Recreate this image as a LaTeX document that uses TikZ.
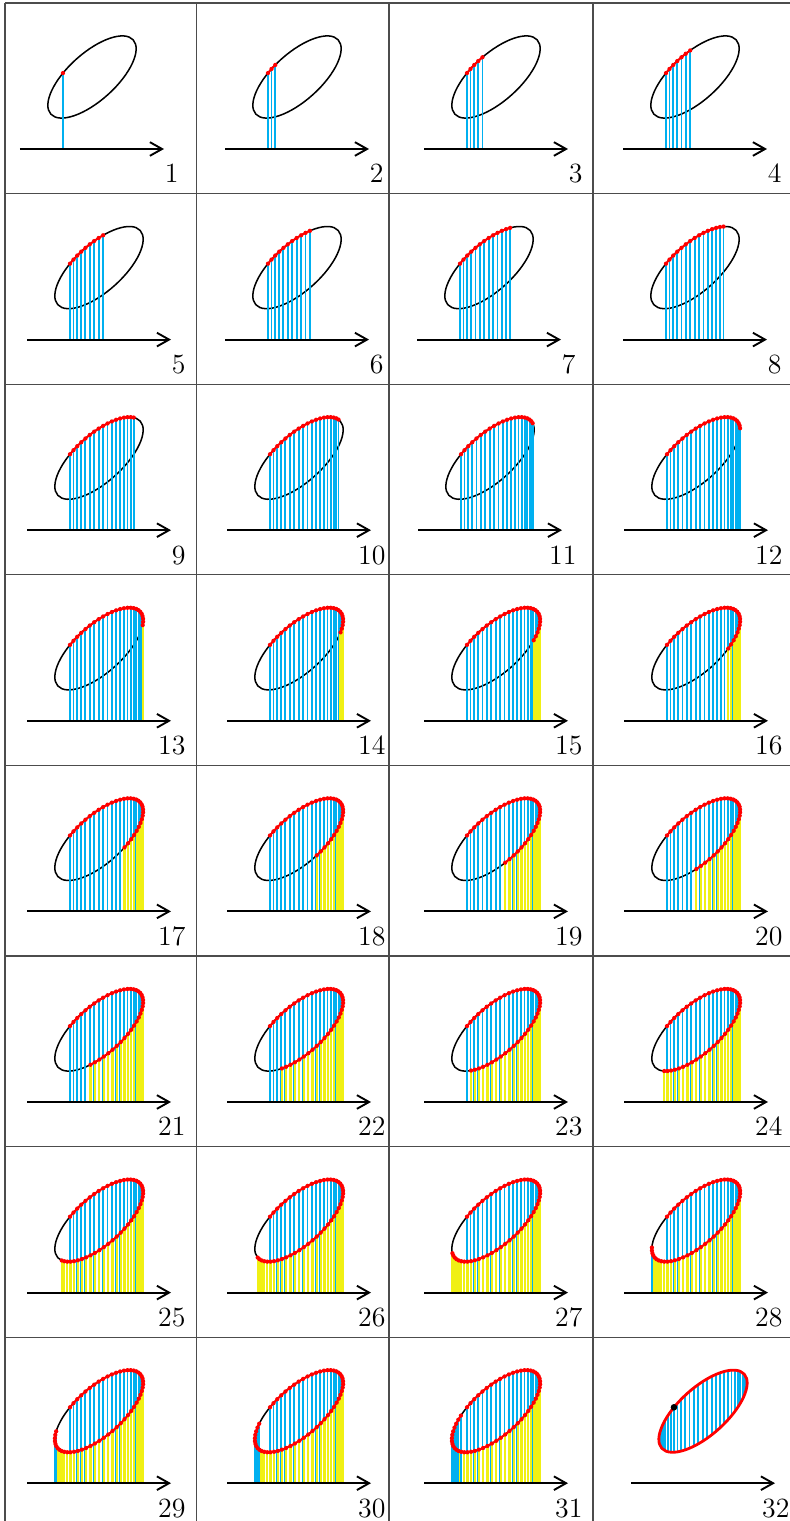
\documentclass[tikz,border=0pt]{standalone}
\usetikzlibrary{math,arrows.meta}
\definecolor{stripblue}{RGB}{0,176,240}
\definecolor{stripyellow}{RGB}{240,240,20}

\tikzset{
  gridline/.style={draw=black!70, line width=0.45pt},
  outline/.style={black, line width=0.6pt},
  xaxis/.style={-{Straight Barb[length=4.8pt,width=5.4pt]}, black, line width=0.75pt},
  upstrip/.style={stripblue, line width=0.75pt},
  downstrip/.style={stripyellow, line width=0.9pt},
  trace/.style={red, line width=0.75pt, line join=round, line cap=round},
  framelabel/.style={anchor=base east, inner sep=0pt, font=\fontsize{11}{13}\selectfont},
}

\begin{document}
\begin{tikzpicture}
\tikzmath{
\ca=0.77; % semi-axes and tilt of the loop
\cb=0.33;
\tilt=42;
\tstart=110;
\dt=360/62;
}
\useasboundingbox (0,0) rectangle (790/72,1521/72);
%table rules
\foreach \i in {0,...,7}
  \draw[gridline] (5/72,{(1518-190.6*\i)/72}) -- (790/72,{(1518-190.6*\i)/72});
\foreach \c in {5,196.5,389,593}
  \draw[gridline] (\c/72,0) -- (\c/72,1518/72);

\foreach \n in {1,...,32}{
  \pgfmathtruncatemacro\row{(\n-1)/4}
  \pgfmathsetmacro\ox{{20,225,424,623,27,225,417,623,27,227,418,624,27,227,424,624,27,227,424,624,27,227,424,624,27,227,424,624,27,227,424,631}[\n-1]/72}
  \pgfmathsetmacro\oy{(1521-149-190.6*\row)/72}
  \begin{scope}[shift={(\ox,\oy)}]
  \ifnum\n<32
    \draw[outline, rotate around={\tilt:(1,1)}] (1,1) ellipse [x radius=\ca, y radius=\cb];
    \pgfmathtruncatemacro\kmax{2*\n-2}
    %strips
    \foreach \k in {0,...,\kmax}{
      \pgfmathsetmacro\tpar{\tstart-\k*\dt}
      \pgfmathsetmacro\ptx{1+\ca*cos(\tpar)*cos(\tilt)-\cb*sin(\tpar)*sin(\tilt)}
      \pgfmathsetmacro\pty{1+\ca*cos(\tpar)*sin(\tilt)+\cb*sin(\tpar)*cos(\tilt)}
      \pgfmathsetmacro\vx{\ca*sin(\tpar)*cos(\tilt)+\cb*cos(\tpar)*sin(\tilt)}
      \ifdim\vx pt>0pt
        \draw[upstrip] (\ptx,0) -- (\ptx,\pty);
      \else
        \draw[downstrip] (\ptx,0) -- (\ptx,\pty);
      \fi
    }
    %path so far
    \ifnum\n>1
      \pgfmathsetmacro\tend{\tstart-\kmax*\dt}
      \draw[trace] plot[domain=\tend:\tstart, samples=8*\n, variable=\t]
        ({1+\ca*cos(\t)*cos(\tilt)-\cb*sin(\t)*sin(\tilt)},{1+\ca*cos(\t)*sin(\tilt)+\cb*sin(\t)*cos(\tilt)});
    \fi
    \foreach \k in {0,...,\kmax}{
      \pgfmathsetmacro\tpar{\tstart-\k*\dt}
      \fill[red] ({1+\ca*cos(\tpar)*cos(\tilt)-\cb*sin(\tpar)*sin(\tilt)},{1+\ca*cos(\tpar)*sin(\tilt)+\cb*sin(\tpar)*cos(\tilt)}) circle (0.85pt);
    }
  \else
    \begin{scope}
      \clip[rotate around={\tilt:(1,1)}] (1,1) ellipse [x radius=\ca, y radius=\cb];
      \foreach \k in {0,...,61}{
        \pgfmathsetmacro\tpar{\tstart-\k*\dt}
        \pgfmathsetmacro\ptx{1+\ca*cos(\tpar)*cos(\tilt)-\cb*sin(\tpar)*sin(\tilt)}
        \pgfmathsetmacro\pty{1+\ca*cos(\tpar)*sin(\tilt)+\cb*sin(\tpar)*cos(\tilt)}
        \pgfmathsetmacro\vx{\ca*sin(\tpar)*cos(\tilt)+\cb*cos(\tpar)*sin(\tilt)}
        \ifdim\vx pt>0pt
          \draw[upstrip] (\ptx,0) -- (\ptx,\pty);
        \fi
      }
    \end{scope}
    \draw[trace, line width=1.1pt, rotate around={\tilt:(1,1)}] (1,1) ellipse [x radius=\ca, y radius=\cb];
    \fill[black] ({1+\ca*cos(\tstart)*cos(\tilt)-\cb*sin(\tstart)*sin(\tilt)},{1+\ca*cos(\tstart)*sin(\tilt)+\cb*sin(\tstart)*cos(\tilt)}) circle (1.3pt);
  \fi
  \draw[xaxis] (0,0) -- (2,0);
  \node[framelabel] (lab\n) at (2.208,-0.472) {\n};
  \end{scope}
}
\end{tikzpicture}
\end{document}
